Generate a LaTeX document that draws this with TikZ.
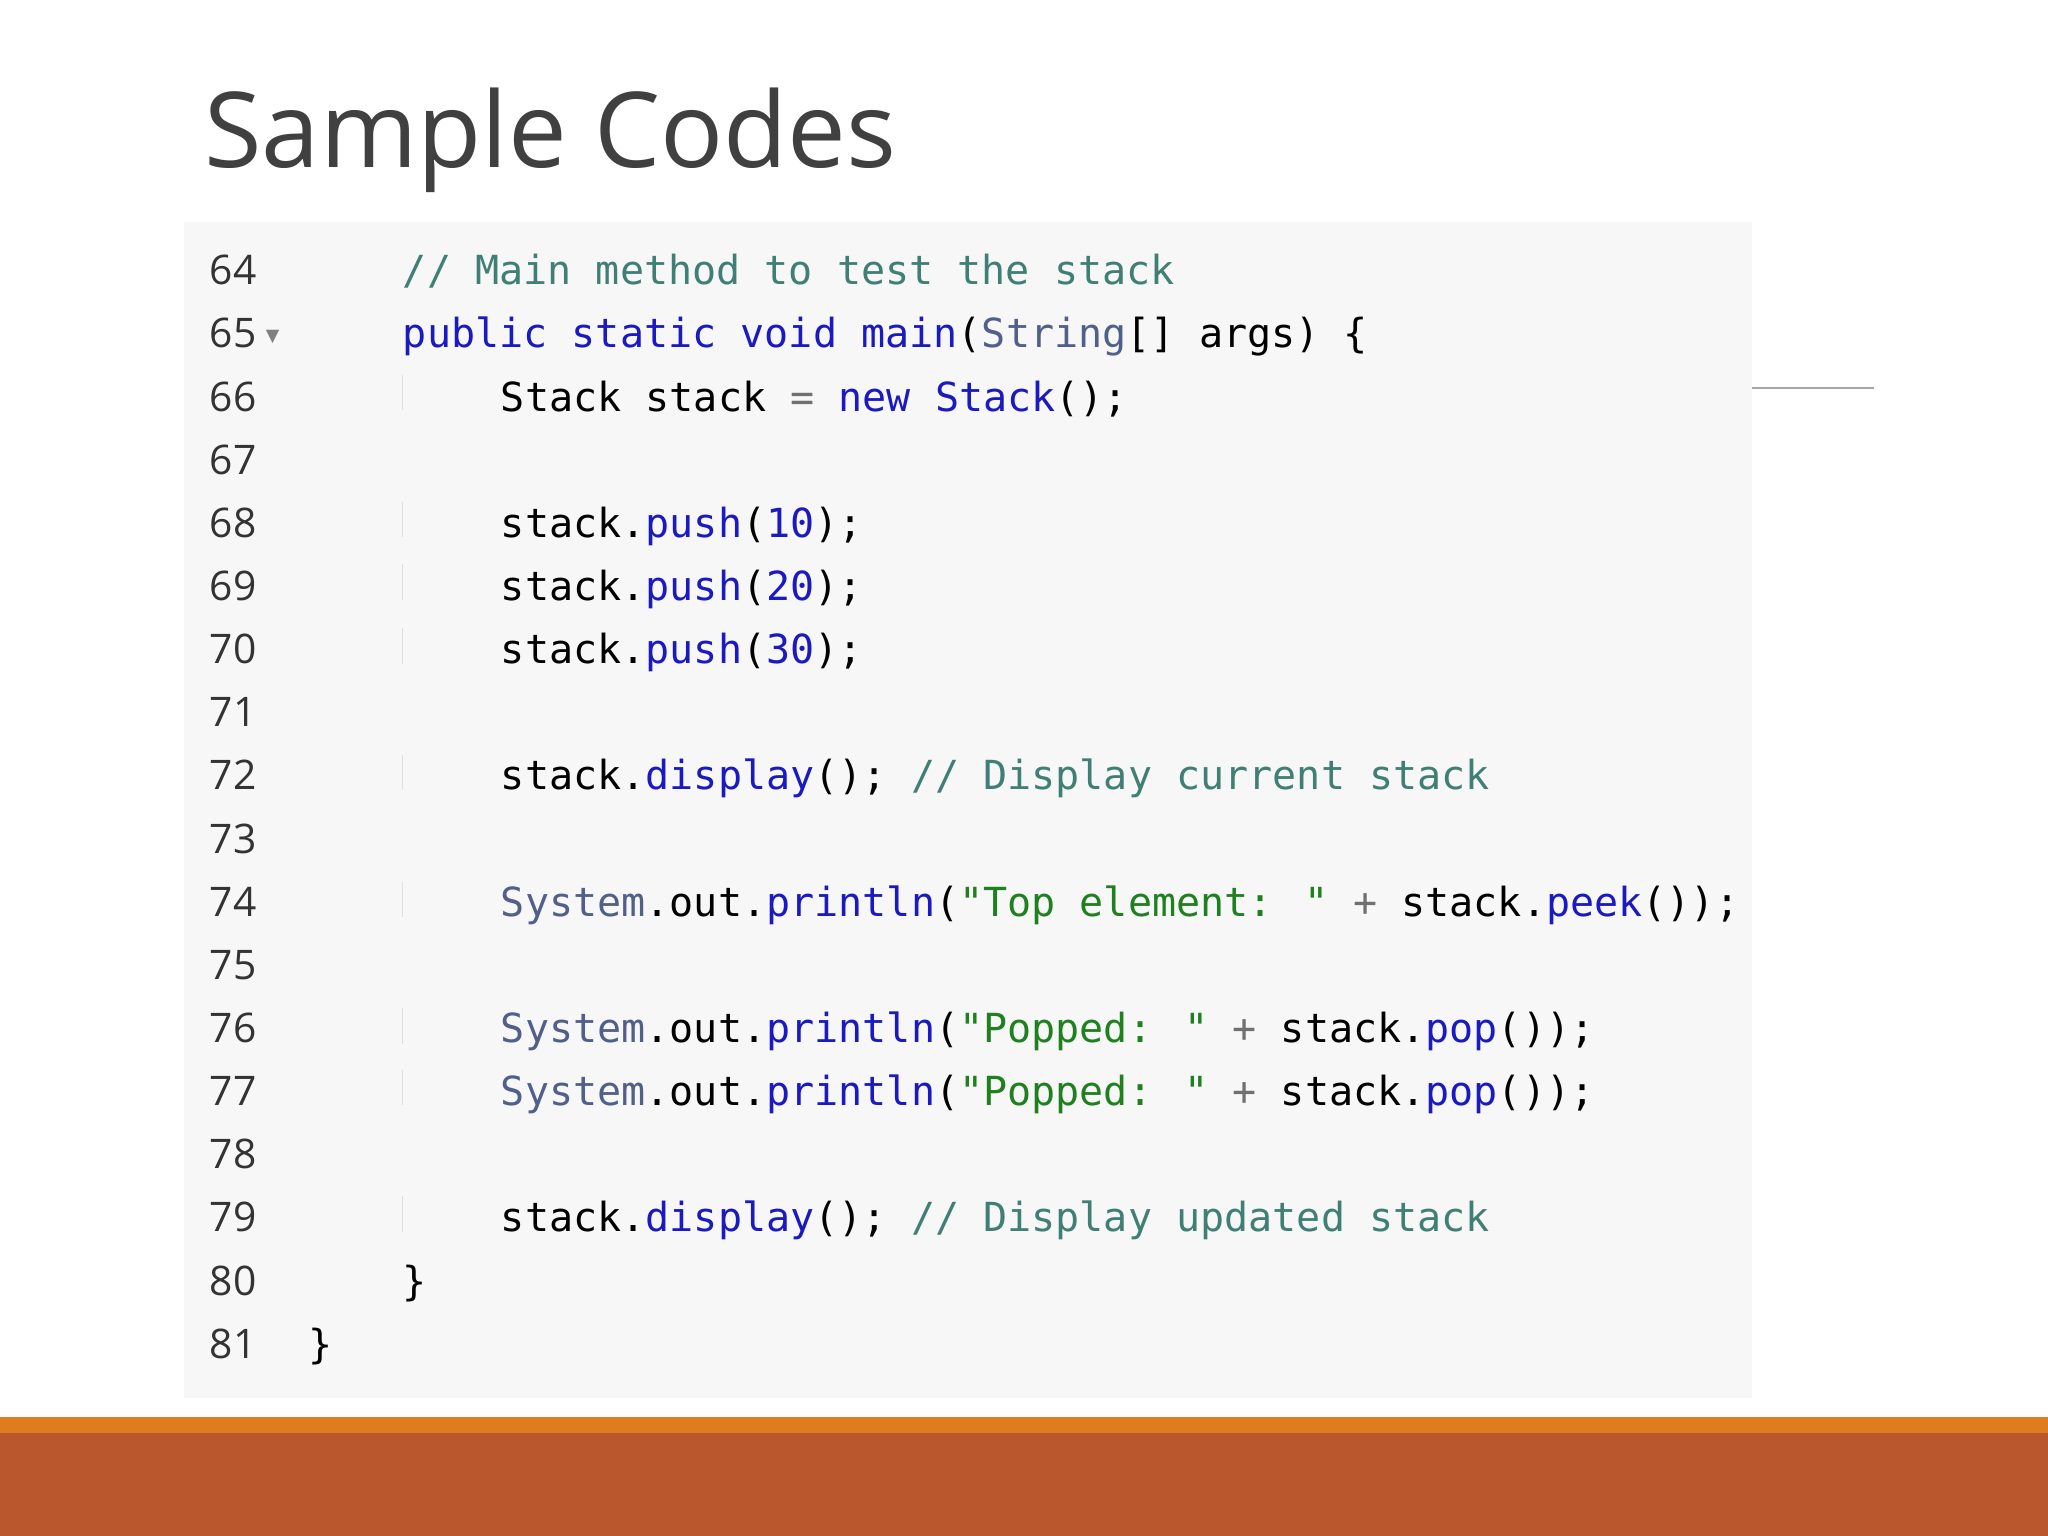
\documentclass[tikz,border=0pt]{standalone}
\usepackage{fontspec}
\setmainfont{Open Sans}
\newfontfamily\codefont{DejaVu Sans Mono}[Scale=1]
\newfontfamily\titlefont{Open Sans}
\newfontfamily\symfont{DejaVu Sans}
\definecolor{cbg}{HTML}{F7F7F7}
\definecolor{ccm}{HTML}{3F7F74}
\definecolor{ckw}{HTML}{1A1AC0}
\definecolor{cstr}{HTML}{1F801F}
\definecolor{csys}{HTML}{50608A}
\definecolor{cop}{HTML}{707070}
\definecolor{cnum}{HTML}{333333}
\definecolor{orangebar}{HTML}{E07B1F}
\definecolor{rustbar}{HTML}{BA572D}
\newcommand{\kwx}[1]{\textcolor{ckw}{#1}}
\newcommand{\cmx}[1]{\textcolor{ccm}{#1}}
\newcommand{\strx}[1]{\textcolor{cstr}{#1}}
\newcommand{\sysx}[1]{\textcolor{csys}{#1}}
\newcommand{\opx}[1]{\textcolor{cop}{#1}}
\tikzset{
  code/.style={anchor=base west,inner sep=0pt,font=\codefont\fontsize{11.4}{13}\selectfont,text=black},
  lnum/.style={anchor=base west,inner sep=0pt,font=\fontsize{11.6}{13}\selectfont,text=cnum},
}
\begin{document}
\begin{tikzpicture}[x=0.013061cm,y=-0.013061cm]
\useasboundingbox (0,0) rectangle (1568,1176);
\fill[white] (0,0) rectangle (1568,1176);
\node[anchor=base west,inner sep=0pt,text=black!75,font=\titlefont\fontsize{29.8}{33}\selectfont] (title) at (156,128) {Sample Codes};
\fill[cbg] (141,170) rectangle (1341,1070);
\draw[gray!70,line width=0.8pt] (1341,297) -- (1435,297);
\fill[orangebar] (0,1085) rectangle (1568,1098);
\fill[rustbar] (0,1097) rectangle (1568,1176);
% indent guides
\foreach \yy in {304,401,449,498,595,692,789,836,933}
  \draw[gray!25,line width=0.4pt] (308,\yy-17) -- (308,\yy+10);
% line numbers
\foreach \n [count=\i from 0] in {64,...,81}
  \node[lnum] (n\n) at (160,{218+48.35*\i}) {\n};
\node[anchor=west,inner sep=0pt,text=gray,font=\symfont\fontsize{5}{5}\selectfont] (arr) at (203,258) {▼};
\def\L#1{218+48.35*#1}
\node[code] (c64) at (308,{\L0}) {\cmx{// Main method to test the stack}};
\node[code] (c65) at (308,{\L1}) {\kwx{public static void main}(\sysx{String}[] args) \{};
\node[code] (c66) at (383,{\L2}) {Stack stack \opx{=} \kwx{new Stack}();};
\node[code] (c68) at (383,{\L4}) {stack.\kwx{push}(\kwx{10});};
\node[code] (c69) at (383,{\L5}) {stack.\kwx{push}(\kwx{20});};
\node[code] (c70) at (383,{\L6}) {stack.\kwx{push}(\kwx{30});};
\node[code] (c72) at (383,{\L8}) {stack.\kwx{display}(); \cmx{// Display current stack}};
\node[code] (c74) at (383,{\L{10}}) {\sysx{System}.out.\kwx{println}(\strx{"Top element: "} \opx{+} stack.\kwx{peek}());};
\node[code] (c76) at (383,{\L{12}}) {\sysx{System}.out.\kwx{println}(\strx{"Popped: "} \opx{+} stack.\kwx{pop}());};
\node[code] (c77) at (383,{\L{13}}) {\sysx{System}.out.\kwx{println}(\strx{"Popped: "} \opx{+} stack.\kwx{pop}());};
\node[code] (c79) at (383,{\L{15}}) {stack.\kwx{display}(); \cmx{// Display updated stack}};
\node[code] (c80) at (308,{\L{16}}) {\}};
\node[code] (c81) at (236,{\L{17}}) {\}};
\end{tikzpicture}
\end{document}
